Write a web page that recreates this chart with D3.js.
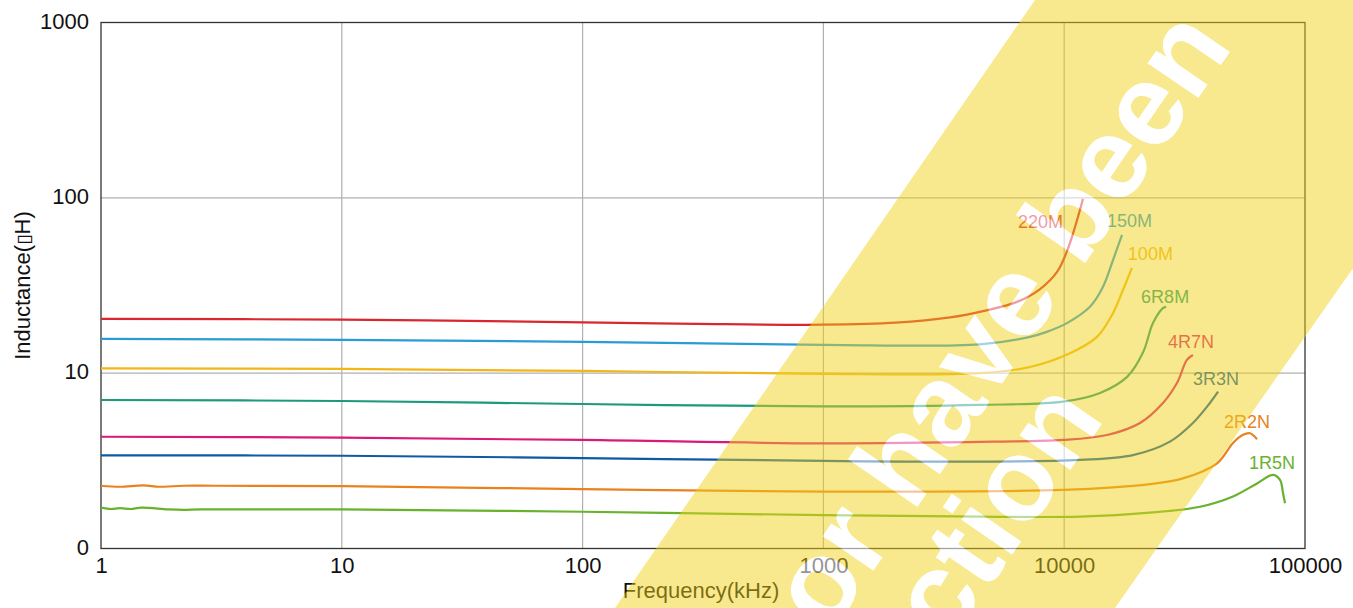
<!DOCTYPE html>
<html>
<head>
<meta charset="utf-8">
<script src="https://cdn.jsdelivr.net/npm/d3@7"></script>
<style>
  body { margin: 0; background: #fff; }
  svg { display: block; font-family: "Liberation Sans", Arial, Helvetica, sans-serif; }
</style>
</head>
<body>
<svg id="chart" width="1353" height="608"></svg>
<script>
// axis ticks
const xTicks = [1, 10, 100, 1000, 10000, 100000];
const xTickLabels = ["1", "10", "100", "1000", "10000", "100000"];
const yTicks = [1, 10, 100, 1000];
const yTickLabels = ["0", "10", "100", "1000"];

// series (frequency in kHz, inductance)
const seriesNames = ["220M", "150M", "100M", "6R8M", "4R7N", "3R3N", "2R2N", "1R5N"];
const seriesColors = ["#d9272e", "#2b9bd6", "#f2b619", "#1d9a7c", "#d91a7a", "#0f5ba3", "#e8821e", "#68b22e"];

const freq220M = [1, 10, 100, 300, 1000, 2000, 3360, 4600, 6370, 7940, 9340, 10280, 11090, 11970];
const ind220M  = [20.4, 20.2, 19.5, 19.1, 18.9, 19.4, 20.8, 22.6, 25.5, 30.2, 37.8, 49.8, 68.2, 98.6];

const freq150M = [1, 10, 100, 1000, 4470, 7210, 8460, 10270, 12790, 14480, 15950, 17380];
const ind150M  = [15.7, 15.5, 15.1, 14.5, 14.6, 16.1, 17.2, 19.3, 23.9, 31.0, 44.2, 61.4];

const freq100M = [1, 10, 100, 1000, 4470, 7210, 10570, 13680, 15950, 17540, 19100];
const ind100M  = [10.66, 10.57, 10.3, 9.9, 10.0, 10.85, 13.0, 16.1, 22.0, 29.8, 39.8];

const freq6R8M = [1, 10, 100, 1000, 4470, 9890, 14090, 18250, 21240, 23370, 25710, 26500];
const ind6R8M  = [7.03, 6.94, 6.67, 6.46, 6.59, 6.88, 7.71, 9.52, 13.1, 19.3, 23.5, 23.9];

const freq4R7N = [1, 10, 100, 1000, 5060, 9890, 15060, 20650, 25710, 29390, 32330, 34230];
const ind4R7N  = [4.34, 4.29, 4.16, 3.98, 4.07, 4.16, 4.44, 5.20, 6.76, 8.79, 11.9, 12.7];

const freq3R3N = [1, 10, 100, 1000, 4470, 11640, 19300, 27480, 34230, 40280, 43550];
const ind3R3N  = [3.40, 3.38, 3.28, 3.16, 3.13, 3.20, 3.41, 4.07, 5.20, 6.76, 7.84];

const freq2R2N = [1, 1.2, 1.5, 1.75, 2.2, 3, 10, 100, 1000, 9890, 22710, 31120, 43130, 50240, 55300, 59110, 63210];
const ind2R2N  = [2.28, 2.25, 2.29, 2.25, 2.28, 2.28, 2.27, 2.18, 2.11, 2.16, 2.33, 2.51, 3.06, 4.0, 4.45, 4.54, 4.20];

const freq1R5N = [1, 1.1, 1.2, 1.33, 1.47, 1.9, 2.2, 2.6, 10, 100, 1000, 4470, 11640, 22710, 36640, 50240, 63210, 73650, 78750, 81100, 82600];
const ind1R5N  = [1.71, 1.68, 1.70, 1.68, 1.71, 1.67, 1.66, 1.67, 1.67, 1.62, 1.55, 1.52, 1.52, 1.60, 1.73, 1.98, 2.35, 2.63, 2.46, 2.06, 1.81];

const seriesFreq = [freq220M, freq150M, freq100M, freq6R8M, freq4R7N, freq3R3N, freq2R2N, freq1R5N];
const seriesInd = [ind220M, ind150M, ind100M, ind6R8M, ind4R7N, ind3R3N, ind2R2N, ind1R5N];

// label placement relative to each curve's highest point (px)
const labelOffsets = [[-65, 29], [-15, -8], [-4, -8], [-25, -4], [-25, -7], [-25, -7], [-26, -5], [-24, -6]];

const margin = { top: 22.5, right: 48, bottom: 59.5, left: 101 },
  width = 1353 - margin.left - margin.right,
  height = 608 - margin.top - margin.bottom;

const svg = d3.select("#chart");

const xScale = d3.scaleLog().domain([1, 100000]).range([margin.left, margin.left + width]);
const yScale = d3.scaleLog().domain([1, 1000]).range([margin.top + height, margin.top]);

// grid
const grid = svg.append("g").attr("stroke", "#b0b0b0").attr("stroke-width", 1.2);
grid.selectAll(".vgrid")
  .data(xTicks.slice(1, -1))
  .join("line")
  .attr("x1", d => xScale(d)).attr("x2", d => xScale(d))
  .attr("y1", margin.top).attr("y2", margin.top + height);
grid.selectAll(".hgrid")
  .data(yTicks.slice(1, -1))
  .join("line")
  .attr("x1", margin.left).attr("x2", margin.left + width)
  .attr("y1", d => yScale(d)).attr("y2", d => yScale(d));

// frame
svg.append("rect")
  .attr("x", margin.left).attr("y", margin.top)
  .attr("width", width).attr("height", height)
  .attr("fill", "none").attr("stroke", "#333").attr("stroke-width", 1.3);

// curves
const line = d3.line()
  .x(d => xScale(d[0]))
  .y(d => yScale(d[1]))
  .curve(d3.curveCatmullRom.alpha(0.5));

const curves = seriesNames.map((name, i) => ({
  name: name,
  color: seriesColors[i],
  points: seriesFreq[i].map((f, j) => [f, seriesInd[i][j]])
}));

svg.append("g").selectAll("path")
  .data(curves)
  .join("path")
  .attr("fill", "none")
  .attr("stroke", d => d.color)
  .attr("stroke-width", 2.2)
  .attr("d", d => line(d.points));

svg.append("g").selectAll("text")
  .data(curves)
  .join("text")
  .attr("x", (d, i) => {
    const top = d.points.reduce((a, b) => (b[1] > a[1] ? b : a));
    return xScale(top[0]) + labelOffsets[i][0];
  })
  .attr("y", (d, i) => {
    const top = d.points.reduce((a, b) => (b[1] > a[1] ? b : a));
    return yScale(top[1]) + labelOffsets[i][1];
  })
  .attr("fill", d => d.color)
  .attr("font-size", 18)
  .text(d => d.name);

// axes
const xAxis = d3.axisBottom(xScale)
  .tickValues(xTicks)
  .tickFormat((d, i) => xTickLabels[i])
  .tickSize(0)
  .tickPadding(9);
const gx = svg.append("g")
  .attr("transform", "translate(0," + (margin.top + height) + ")")
  .call(xAxis);
gx.select(".domain").remove();
gx.selectAll("text").attr("font-size", 22).attr("font-family", null).attr("fill", "#111");

const yAxis = d3.axisLeft(yScale)
  .tickValues(yTicks)
  .tickFormat((d, i) => yTickLabels[i])
  .tickSize(0)
  .tickPadding(12);
const gy = svg.append("g")
  .attr("transform", "translate(" + margin.left + ",0)")
  .call(yAxis);
gy.select(".domain").remove();
gy.selectAll("text").attr("font-size", 22).attr("font-family", null).attr("fill", "#111").attr("dy", "0.25em");

// axis titles
svg.append("text")
  .attr("x", 701).attr("y", 598)
  .attr("text-anchor", "middle")
  .attr("font-size", 22)
  .attr("fill", "#111")
  .text("Frequency(kHz)");

const yTitle = svg.append("text")
  .attr("transform", "translate(30," + (margin.top + height / 2) + ") rotate(-90)")
  .attr("text-anchor", "middle")
  .attr("font-size", 22)
  .attr("fill", "#111");
yTitle.append("tspan").text("Inductance(");
yTitle.append("tspan").attr("font-size", 19).attr("font-family", "DejaVu Sans").text("\u25AF");
yTitle.append("tspan").text("H)");

// watermark band over the chart
const band = [[1035, 0], [1541, 0], [1115, 608], [615, 608]];
const wmLines = [
  { text: "or have been", x: 1234, y: 46 },
  { text: "ction", x: 1106, y: 418 }
];
const wmAngle = -55.5;

const defs = svg.append("defs");
const mask = defs.append("mask")
  .attr("id", "wm-mask")
  .attr("maskUnits", "userSpaceOnUse")
  .attr("x", 0).attr("y", 0).attr("width", 1353).attr("height", 608);
mask.append("rect").attr("width", 1353).attr("height", 608).attr("fill", "#fff");

function addWmText(sel, fill) {
  sel.selectAll("text")
    .data(wmLines)
    .join("text")
    .attr("transform", d => "translate(" + d.x + "," + d.y + ") rotate(" + wmAngle + ")")
    .attr("text-anchor", "end")
    .attr("font-size", 116)
    .attr("font-weight", "bold")
    .attr("fill", fill)
    .text(d => d.text);
}
addWmText(mask.append("g"), "#000");

defs.append("clipPath").attr("id", "wm-clip")
  .append("polygon").attr("points", band.map(p => p.join(",")).join(" "));

svg.append("polygon")
  .attr("points", band.map(p => p.join(",")).join(" "))
  .attr("fill", "rgb(240,210,20)")
  .attr("fill-opacity", 0.48)
  .attr("mask", "url(#wm-mask)");

addWmText(svg.append("g").attr("clip-path", "url(#wm-clip)").attr("opacity", 0.55), "#fff");
</script>
</body>
</html>
